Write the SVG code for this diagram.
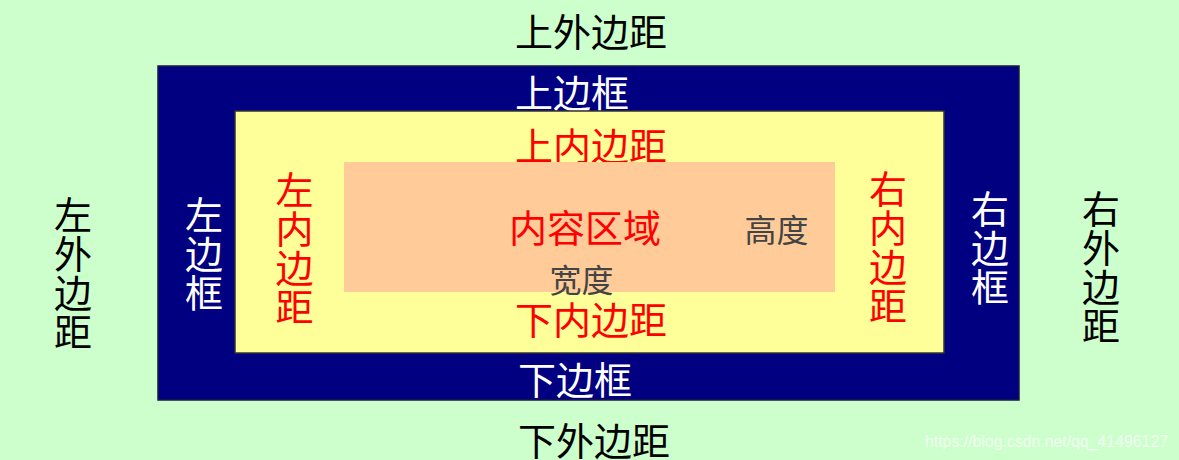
<svg xmlns="http://www.w3.org/2000/svg" width="1179" height="460" viewBox="0 0 1179 460">
<style>
text{font-family:"Noto Sans CJK SC","Noto Sans",sans-serif;font-size:38px;text-anchor:middle}
.v{writing-mode:vertical-rl;text-anchor:start;letter-spacing:1px}
.blk{fill:#000}
.wht{fill:#fff}
.red{fill:#ff0000}
.gry{fill:#444;font-size:32px}
.wm{font-family:"Liberation Sans",Arial,sans-serif;font-size:16px;fill:#fff;fill-opacity:0.75;text-anchor:start}
</style>
<rect id="background" x="0" y="0" width="1179" height="460" fill="#ccffcc"/>
<g id="border">
<rect x="158" y="66" width="861" height="334" fill="#000080" stroke="#1a1a40" stroke-width="1.5"/>
<text class="wht" x="572" y="107">上边框</text>
<text class="wht" x="575" y="394">下边框</text>
<text class="wht v" x="204" y="196" letter-spacing="2">左边框</text>
<text class="wht v" x="990" y="190">右边框</text>
</g>
<g id="padding">
<rect x="235" y="111" width="709" height="242" fill="#ffff99" stroke="#333" stroke-width="1.5"/>
<text class="red" x="591" y="160">上内边距</text>
<text class="red" x="591" y="334">下内边距</text>
<text class="red v" x="294.5" y="171">左内边距</text>
<text class="red v" x="888" y="170">右内边距</text>
</g>
<g id="content">
<rect x="344" y="162" width="491" height="130" fill="#ffcc99"/>
<text class="red" x="585" y="242">内容区域</text>
<text class="gry" x="776.5" y="241.5">高度</text>
<text class="gry" x="581.5" y="291.5">宽度</text>
</g>
<g id="margin">
<text class="blk" x="591" y="46">上外边距</text>
<text class="blk" x="594" y="455">下外边距</text>
<text class="blk v" x="73" y="196">左外边距</text>
<text class="blk v" x="1101" y="190">右外边距</text>
</g>
<g id="connectors"></g>
<text class="wm" x="925" y="447" textLength="243" lengthAdjust="spacingAndGlyphs">https://blog.csdn.net/qq_41496127</text>
</svg>
